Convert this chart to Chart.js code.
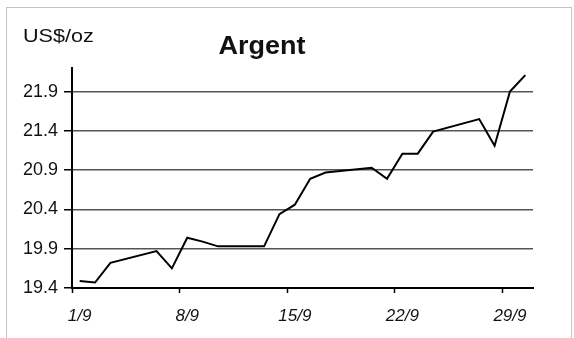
<!DOCTYPE html>
<html>
<head>
<meta charset="utf-8">
<script src="https://cdn.jsdelivr.net/npm/chart.js@4/dist/chart.umd.min.js"></script>
<style>
    html, body { margin: 0; padding: 0; background: #fff; }
    #grafico { display: block; }
</style>
</head>
<body>
<canvas id="grafico" width="574" height="338"></canvas>
<script>
// cotação diária da prata em setembro (US$/oz); fins de semana sem cotação
const dias = ['1/9', '2/9', '3/9', '4/9', '5/9', '6/9', '7/9', '8/9', '9/9', '10/9',
    '11/9', '12/9', '13/9', '14/9', '15/9', '16/9', '17/9', '18/9', '19/9', '20/9',
    '21/9', '22/9', '23/9', '24/9', '25/9', '26/9', '27/9', '28/9', '29/9', '30/9'];
const precos = [19.49, 19.47, 19.72, null, null, 19.87, 19.65, 20.04, 19.99, 19.93,
    null, null, 19.93, 20.34, 20.46, 20.79, 20.87, null, null, 20.93,
    20.79, 21.11, 21.11, 21.39, null, null, 21.55, 21.21, 21.90, 22.11];
const marcasY = [19.4, 19.9, 20.4, 20.9, 21.4, 21.9];
const titulo = 'Argent';
const unidade = 'US$/oz';

const fonte = '"Liberation Sans", Arial, sans-serif';

// texto um pouco esticado na horizontal
function escreverLargo(ctx, texto, x, y, escala) {
    ctx.save();
    ctx.translate(x, y);
    ctx.scale(escala, 1);
    ctx.fillText(texto, 0, 0);
    ctx.restore();
}

// moldura, título e unidade desenhados direto no canvas
const textos = {
    id: 'textos',
    beforeDraw(chart) {
        let ctx = chart.ctx;
        ctx.save();
        ctx.fillStyle = '#fff';
        ctx.fillRect(0, 0, chart.width, chart.height);
        ctx.strokeStyle = '#c4c4c4';
        ctx.lineWidth = 1;
        ctx.strokeRect(6.5, 7.5, 565, 340);
        ctx.restore();
    },
    afterDraw(chart) {
        let ctx = chart.ctx;
        ctx.save();
        ctx.fillStyle = '#111';
        ctx.textBaseline = 'alphabetic';
        ctx.font = 'bold 25px ' + fonte;
        ctx.textAlign = 'center';
        escreverLargo(ctx, titulo, 262, 54, 1.08);
        ctx.font = '18px ' + fonte;
        ctx.textAlign = 'left';
        escreverLargo(ctx, unidade, 23, 42, 1.2);
        ctx.restore();
    }
};

new Chart(document.getElementById('grafico'), {
    type: 'line',
    data: {
        labels: dias,
        datasets: [
            {
                label: titulo,
                data: precos,
                borderColor: '#000',
                borderWidth: 2,
                pointRadius: 0,
                tension: 0,
                spanGaps: true
            }
        ]
    },
    options: {
        responsive: false,
        animation: false,
        layout: {
            padding: {top: 68, right: 41, left: 0, bottom: 0}
        },
        plugins: {
            legend: {display: false},
            title: {display: false},
            tooltip: {enabled: false}
        },
        scales: {
            x: {
                type: 'category',
                offset: true,
                afterFit: (scale) => {
                    scale.height = 50;
                },
                grid: {
                    offset: true,
                    drawOnChartArea: false,
                    tickLength: 5,
                    tickWidth: 1.5,
                    tickColor: (c) => c.index % 7 === 0 ? '#000' : 'rgba(0,0,0,0)'
                },
                border: {color: '#000', width: 2},
                ticks: {
                    autoSkip: false,
                    maxRotation: 0,
                    padding: 13,
                    color: '#111',
                    font: {family: fonte, size: 17, style: 'italic'},
                    callback: (v, i) => i % 7 === 0 ? dias[i] : ''
                }
            },
            y: {
                min: 19.4,
                max: 22.2,
                afterFit: (scale) => {
                    scale.width = 72;
                },
                afterBuildTicks: (scale) => {
                    scale.ticks = marcasY.map((v) => ({value: v}));
                },
                grid: {
                    color: '#555',
                    lineWidth: 1.5,
                    tickLength: 8,
                    tickColor: '#000',
                    tickWidth: 1.5
                },
                border: {color: '#000', width: 2},
                ticks: {
                    padding: 6,
                    color: '#111',
                    font: {family: fonte, size: 18},
                    callback: (v) => v.toFixed(1)
                }
            }
        }
    },
    plugins: [textos]
});
</script>
</body>
</html>
